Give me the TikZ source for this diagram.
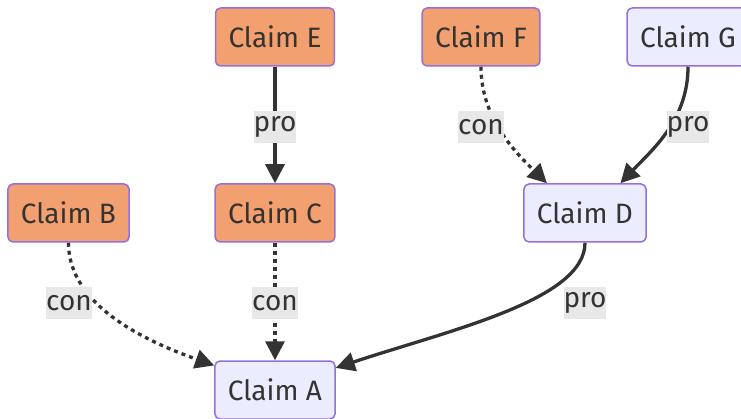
\documentclass[tikz,border=0pt]{standalone}
\usepackage{fontspec}
\setmainfont{Fira Sans}
\usetikzlibrary{arrows.meta}
\definecolor{orangefill}{HTML}{F2A070}
\definecolor{lavfill}{HTML}{ECECFF}
\definecolor{nodestroke}{HTML}{9370DB}
\definecolor{edgecol}{HTML}{333333}
\definecolor{labelbg}{HTML}{E8E8E8}
\begin{document}
\begin{tikzpicture}[x=1pt,y=-1pt,
  font=\fontsize{28}{32}\selectfont,
  claim/.style={draw=nodestroke, line width=1.5pt, rounded corners=5pt,
    minimum height=58pt, inner xsep=13pt, text=edgecol},
  orangebox/.style={claim, fill=orangefill},
  lavbox/.style={claim, fill=lavfill},
  edgelabel/.style={fill=labelbg, inner xsep=0pt, inner ysep=0pt,
    minimum height=32pt, text=edgecol},
  proedge/.style={draw=edgecol, line width=3.3pt, -{Triangle[length=19pt,width=19pt]}},
  conedge/.style={proedge, dash pattern=on 4pt off 4pt}
]
\useasboundingbox (0,0) rectangle (741,419);
% nodes
\node[orangebox] (E) at (275,37) {Claim E};
\node[orangebox] (F) at (481,37) {Claim F};
\node[lavbox]    (G) at (688,37) {Claim G};
\node[orangebox] (B) at (68.5,213) {Claim B};
\node[orangebox] (C) at (275,213) {Claim C};
\node[lavbox]    (D) at (585,213) {Claim D};
\node[lavbox]    (A) at (275,390) {Claim A};
% edges
\draw[proedge] (E.south) -- (C.north);
\draw[conedge] (C.south) -- (A.north);
\draw[conedge] (B.south) .. controls (68.5,298) and (128,335) .. (A.158);
\draw[proedge] (D.south) .. controls (585,300) and (450,330) .. (A.20);
\draw[conedge] (F.south) .. controls (481,118) and (515,152) .. (D.142);
\draw[proedge] (G.south) .. controls (688,120) and (652,150) .. (D.40);
% labels
\node[edgelabel] (lEC) at (275,127) {pro};
\node[edgelabel] (lCA) at (275,303) {con};
\node[edgelabel] (lBA) at (69,303) {con};
\node[edgelabel] (lDA) at (585,303) {pro};
\node[edgelabel] (lFD) at (481,127) {con};
\node[edgelabel] (lGD) at (688,127) {pro};
\end{tikzpicture}
\end{document}
